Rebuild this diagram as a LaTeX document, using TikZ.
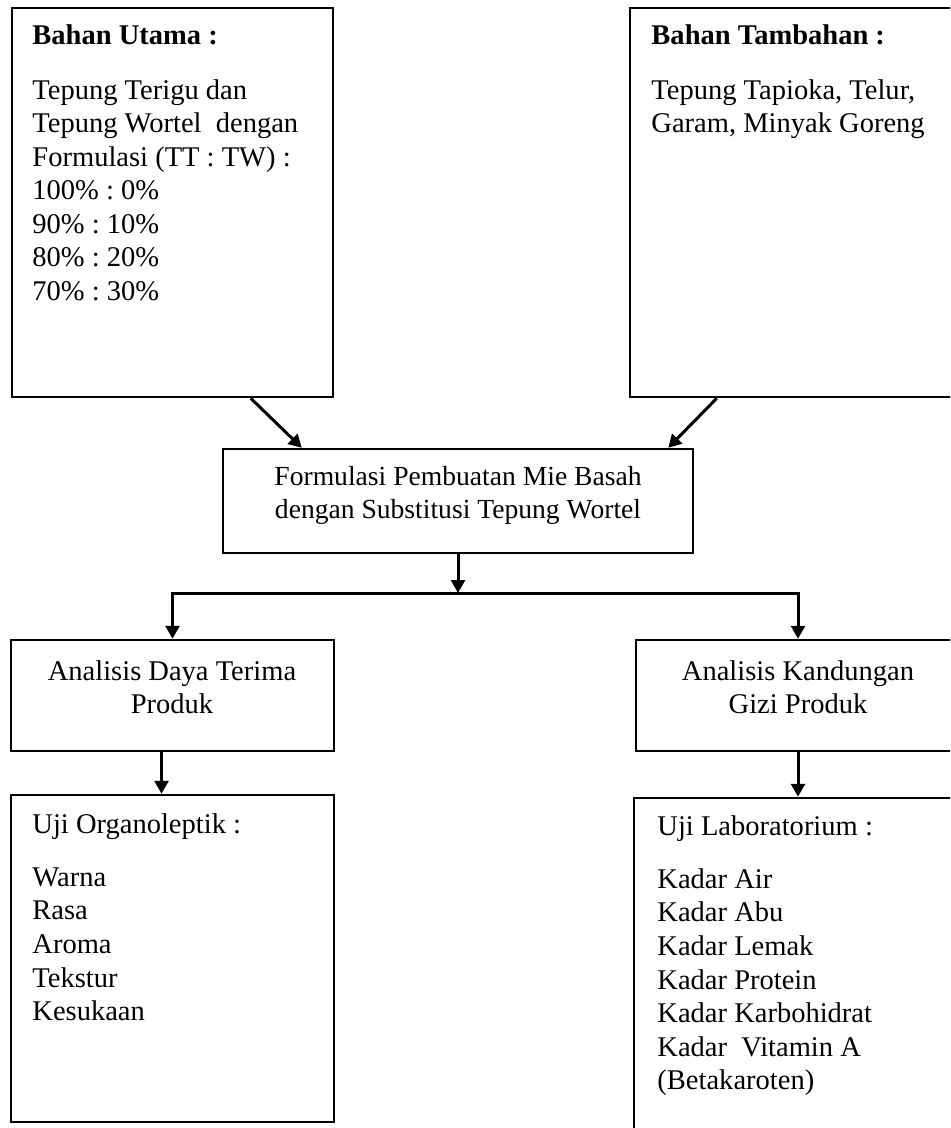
\documentclass[tikz,border=0pt]{standalone}
\usepackage{fontspec}
\setmainfont{Liberation Serif}
\usetikzlibrary{arrows.meta,calc,fit,positioning}
\frenchspacing

\begin{document}
\begin{tikzpicture}[x=0.4348pt,y=-0.4348pt,
    boxline/.style={draw,line width=1.1pt,inner sep=0pt},
    arrowline/.style={line width=1.3pt,-{Triangle[length=5.6pt,width=6pt]}},
    bodytext/.style={inner sep=0pt,text width=#1,align=flush left,anchor=base west,
      font=\fontsize{12.4pt}{14.6pt}\selectfont},
    midtext/.style={inner sep=0pt,text width=#1,align=flush center,anchor=base,
      font=\fontsize{12.4pt}{14.6pt}\selectfont}]
    \useasboundingbox (0,0) rectangle (950,1128);
    \clip (0,0) rectangle (950,1128);
    % kotak
    \node[boxline,fit={(12,8)(333,397)}] (utama) {};
    \node[boxline,fit={(630,8)(955,397)}] (tambahan) {};
    \node[boxline,fit={(223,449)(693,553)}] (formulasi) {};
    \node[boxline,fit={(11,640)(334,751)}] (daya) {};
    \node[boxline,fit={(636,640)(960,751)}] (kandungan) {};
    \node[boxline,fit={(11,795)(334,1122)}] (organo) {};
    \node[boxline,fit={(634,798)(960,1140)}] (lab) {};
    % isi
    \node[bodytext=135pt] (utamaText) at (32,45) {\textbf{Bahan Utama :}\\[8.9pt]
      Tepung Terigu dan\\ Tepung Wortel\ \ dengan\\ Formulasi (TT : TW) :\\
      100\% : 0\%\\ 90\% : 10\%\\ 80\% : 20\%\\ 70\% : 30\%};
    \node[bodytext=135pt] (tambahanText) at (651,45) {\textbf{Bahan Tambahan :}\\[8.9pt]
      Tepung Tapioka, Telur,\\ Garam, Minyak Goreng};
    \node[midtext=200pt,font=\fontsize{12pt}{14.6pt}\selectfont] (formulasiText) at (458,485)
      {Formulasi Pembuatan Mie Basah\\ dengan Substitusi Tepung Wortel};
    \node[midtext=140pt] (dayaText) at (172,680) {Analisis Daya Terima\\ Produk};
    \node[midtext=140pt] (kandunganText) at (798,680) {Analisis Kandungan\\ Gizi Produk};
    \node[bodytext=135pt] (organoText) at (32,833) {Uji Organoleptik :\\[8.6pt]
      Warna\\ Rasa\\ Aroma\\ Tekstur\\ Kesukaan};
    \node[bodytext=135pt] (labText) at (657,835) {Uji Laboratorium :\\[8.6pt]
      Kadar Air\\ Kadar Abu\\ Kadar Lemak\\ Kadar Protein\\ Kadar Karbohidrat\\
      Kadar\ \ Vitamin A\\ (Betakaroten)};
    % panah
    \coordinate (cabang) at (458,593);
    \coordinate (turunKiri) at ($(daya.south)+(-11,0)$);
    \draw[arrowline] ($(utama.south west)+(240,0)$) -- ($(formulasi.north west)+(80,0)$);
    \draw[arrowline] ($(tambahan.south west)+(88,0)$) -- ($(formulasi.north east)+(-26,0)$);
    \draw[arrowline] (formulasi.south) -- (cabang);
    \draw[arrowline] (cabang) -| (daya.north);
    \draw[arrowline] (cabang) -| (kandungan.north);
    \draw[arrowline] (turunKiri) -- (turunKiri |- organo.north);
    \draw[arrowline] (kandungan.south) -- (kandungan.south |- lab.north);
\end{tikzpicture}
\end{document}
